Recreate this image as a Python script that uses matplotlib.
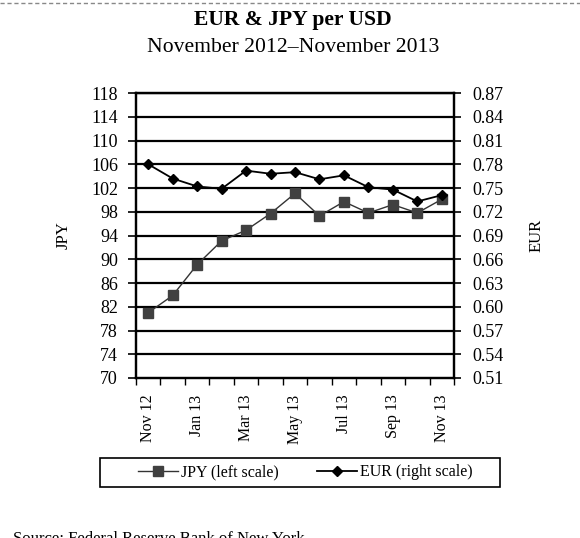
import matplotlib.pyplot as plt
from matplotlib.lines import Line2D
from matplotlib.patches import Rectangle

plt.rcParams['font.family'] = ['Liberation Serif', 'DejaVu Serif']

# Monthly averages, Nov 2012 - Nov 2013
months = ['Nov 12', 'Dec 12', 'Jan 13', 'Feb 13', 'Mar 13', 'Apr 13', 'May 13',
          'Jun 13', 'Jul 13', 'Aug 13', 'Sep 13', 'Oct 13', 'Nov 13']
jpy = [81.0, 83.9, 89.1, 93.1, 94.9, 97.7, 101.1, 97.3, 99.7, 97.8, 99.2, 97.8, 100.1]
eur = [0.780, 0.762, 0.752, 0.749, 0.772, 0.768, 0.770, 0.761, 0.766, 0.751, 0.748, 0.733, 0.741]

jpy_ticks = list(range(70, 119, 4))
eur_ticks = [0.51, 0.54, 0.57, 0.60, 0.63, 0.66, 0.69, 0.72, 0.75, 0.78, 0.81, 0.84, 0.87]

fig = plt.figure(figsize=(5.8, 5.38), dpi=100)
ax = fig.add_axes([0.2345, 0.2974, 0.5483, 0.5297])
ax2 = ax.twinx()

x = list(range(len(months)))

jpy_style = dict(color='#333333', lw=1.0, marker='s', ms=7,
                 mfc='#404040', mec='#404040')
eur_style = dict(color='black', lw=1.3, marker='D', ms=5,
                 mfc='black', mec='black')

ax.plot(x, jpy, zorder=3, **jpy_style)
ax2.plot(x, eur, zorder=3, **eur_style)

ax.set_ylim(70, 118)
ax.set_yticks(jpy_ticks)
ax2.set_ylim(0.51, 0.87)
ax2.set_yticks(eur_ticks)
ax2.set_yticklabels([f'{v:.2f}' for v in eur_ticks])

for y in jpy_ticks[1:]:
    ax.axhline(y, color='black', lw=1.6, zorder=1)

# category axis: ticks on the boundaries, labels on every other month
ax.set_xlim(-0.5, len(months) - 0.5)
ax.set_xticks([i - 0.5 for i in range(len(months) + 1)])
ax.set_xticklabels([])
ax.set_xticks(x[::2], minor=True)
ax.set_xticklabels(months[::2], minor=True, rotation=90, fontsize=11.5)
ax.tick_params(axis='x', which='major', direction='out', length=5, width=1)
ax.tick_params(axis='x', which='minor', length=0, pad=12)

ax.tick_params(axis='y', direction='out', length=6, width=1.2, labelsize=13, pad=7)
ax2.tick_params(axis='y', direction='out', length=5, width=1.2, labelsize=13, pad=8)

for a in (ax, ax2):
    for s in a.spines.values():
        s.set_linewidth(1.6)
        s.set_color('black')

ax.set_ylabel('JPY', fontsize=12)
ax.yaxis.set_label_coords(-0.201, 0.5)
ax2.set_ylabel('EUR', fontsize=12)
ax2.yaxis.set_label_coords(1.233, 0.5)

fig.text(0.505, 1 - 25 / 538, 'EUR & JPY per USD', ha='center', va='baseline',
         fontsize=15.6, fontweight='bold')
fig.text(0.506, 1 - 52 / 538, 'November 2012\u2013November 2013', ha='center',
         va='baseline', fontsize=15.6)

# legend box below the plot
fig.add_artist(Rectangle((100 / 580, 1 - 487 / 538), 400 / 580, 29 / 538,
                         transform=fig.transFigure, fill=False,
                         edgecolor='black', lw=1.2))
handles = [Line2D([], [], **jpy_style), Line2D([], [], **eur_style)]
fig.legend(handles, ['JPY (left scale)', 'EUR (right scale)'],
           loc='center', bbox_to_anchor=(305 / 580, 1 - 472.5 / 538),
           ncol=2, fontsize=11.5, frameon=False, handlelength=2.55,
           handletextpad=0.15, columnspacing=2.4, borderpad=0, borderaxespad=0)

fig.text(0.022, 1 - 531 / 538, 'Source: Federal Reserve Bank of New York',
         ha='left', va='top', fontsize=12)

fig.add_artist(Line2D([0, 1], [0.995, 0.995], color='#888888', lw=1,
                      ls=(0, (3, 2)), transform=fig.transFigure))

fig.savefig('out.png', dpi=100)
